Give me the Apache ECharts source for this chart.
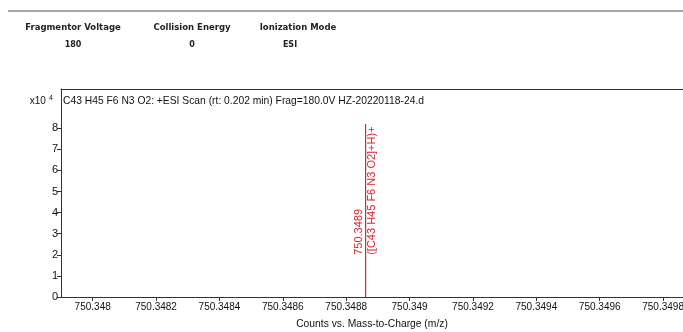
<!DOCTYPE html>
<html>
<head>
<meta charset="utf-8">
<script src="https://cdn.jsdelivr.net/npm/echarts@6/dist/echarts.min.js"></script>
<style>
html,body{margin:0;padding:0;background:#fff;overflow:hidden;}
#chart{width:683px;height:332px;}
</style>
</head>
<body>
<div id="chart"></div>
<script>
// ---- data ----
var headerNames = ['Fragmentor Voltage', 'Collision Energy', 'Ionization Mode'];
var headerValues = ['180', '0', 'ESI'];
var plotTitle = 'C43 H45 F6 N3 O2: +ESI Scan (rt: 0.202 min) Frag=180.0V HZ-20220118-24.d';
var peakMz = [750.34886];
var peakCounts = [82000];
var peakLabels = [['750.3489', '([C43 H45 F6 N3 O2]+H)+']];
var xTickValues = [750.348, 750.3482, 750.3484, 750.3486, 750.3488, 750.349, 750.3492, 750.3494, 750.3496, 750.3498];
var xTickLabels = ['750.348', '750.3482', '750.3484', '750.3486', '750.3488', '750.349', '750.3492', '750.3494', '750.3496', '750.3498'];
var yTickValues = [0, 10000, 20000, 30000, 40000, 50000, 60000, 70000, 80000];
var yTickLabels = ['0', '1', '2', '3', '4', '5', '6', '7', '8'];
var xAxisName = 'Counts vs. Mass-to-Charge (m/z)';
var yScale = 10000;

var chart = echarts.init(document.getElementById('chart'), null, {renderer: 'canvas', width: 683, height: 332});
var FONT = '"Liberation Sans", Arial, sans-serif';
var HFONT = '"DejaVu Sans", Verdana, sans-serif';
var AX = '#333';
var RED = '#d9262b';

var peakData = peakMz.map(function (m, i) { return [m, peakCounts[i], i]; });

var headerX = [73, 192, 298];
var valueX = [73, 192, 290];
var graphics = [
  {type: 'line', shape: {x1: 8, y1: 11, x2: 683, y2: 11}, style: {stroke: '#8a8a8a', lineWidth: 1.5}}
];
headerNames.forEach(function (h, i) {
  graphics.push({type: 'text', x: headerX[i], y: 28, style: {text: h, font: 'bold 8.5px ' + HFONT, fill: '#222', textAlign: 'center', textVerticalAlign: 'middle'}});
  graphics.push({type: 'text', x: valueX[i], y: 45, style: {text: headerValues[i], font: 'bold 8px ' + HFONT, fill: '#222', textAlign: 'center', textVerticalAlign: 'middle'}});
});
graphics.push({type: 'text', x: 63, y: 101, style: {text: plotTitle, font: '10.3px ' + FONT, fill: '#111', textAlign: 'left', textVerticalAlign: 'middle'}});
graphics.push({type: 'text', x: 53, y: 101, style: {
  text: '{a|x10} {b|4}', textAlign: 'right', textVerticalAlign: 'middle',
  rich: {a: {font: '10px ' + FONT, fill: '#111'}, b: {font: '7px ' + FONT, fill: '#111', padding: [0, 0, 6, 0]}}
}});

var option = {
  animation: false,
  backgroundColor: '#fff',
  grid: {left: 61, top: 89, width: 622, height: 208, containLabel: false, outerBoundsMode: 'none'},
  xAxis: [{
    type: 'value', min: 750.3479, max: 750.3498628, position: 'bottom',
    name: xAxisName, nameLocation: 'middle', nameGap: 22,
    nameTextStyle: {fontFamily: FONT, fontSize: 10.3, color: '#111'},
    axisLine: {show: true, lineStyle: {color: AX, width: 1}},
    axisTick: {show: true, length: 4, lineStyle: {color: AX}, customValues: xTickValues},
    axisLabel: {
      show: true, margin: 5, fontFamily: FONT, fontSize: 10, color: '#111',
      customValues: xTickValues,
      formatter: function (v) {
        for (var i = 0; i < xTickValues.length; i++) { if (Math.abs(v - xTickValues[i]) < 1e-9) return xTickLabels[i]; }
        return '';
      }
    },
    splitLine: {show: false}
  }, {
    type: 'value', min: 750.3479, max: 750.3498628, position: 'top',
    axisLine: {show: true, onZero: false, lineStyle: {color: AX, width: 1}},
    axisTick: {show: false}, axisLabel: {show: false}, splitLine: {show: false}
  }],
  yAxis: {
    type: 'value', min: 0, max: 98600,
    axisLine: {show: true, lineStyle: {color: AX, width: 1}},
    axisTick: {show: true, length: 4, lineStyle: {color: AX}, customValues: yTickValues},
    axisLabel: {
      margin: 3, fontFamily: FONT, fontSize: 11, color: '#111',
      customValues: yTickValues,
      formatter: function (v) {
        for (var i = 0; i < yTickValues.length; i++) { if (Math.abs(v - yTickValues[i]) < 1) return yTickLabels[i]; }
        return '';
      }
    },
    splitLine: {show: false}
  },
  series: [{
    type: 'custom',
    xAxisIndex: 0,
    data: peakData,
    clip: true,
    z: 5,
    renderItem: function (params, api) {
      var x = api.value(0), y = api.value(1), idx = api.value(2);
      var p0 = api.coord([x, 0]);
      var p1 = api.coord([x, y]);
      var pl = api.coord([x, 2 * yScale]);
      var cx = Math.round(p0[0]);
      return {
        type: 'group',
        children: [
          {type: 'rect', shape: {x: cx, y: p1[1], width: 1.2, height: p0[1] - p1[1]}, style: {fill: RED, stroke: null}},
          {type: 'text', x: cx + 0.5, y: pl[1], rotation: Math.PI / 2,
            style: {text: peakLabels[idx].join('\n'), font: '11px ' + FONT, fill: RED, textAlign: 'left', textVerticalAlign: 'middle', lineHeight: 13.5}}
        ]
      };
    }
  }],
  graphic: graphics
};
chart.setOption(option);
</script>
</body>
</html>
